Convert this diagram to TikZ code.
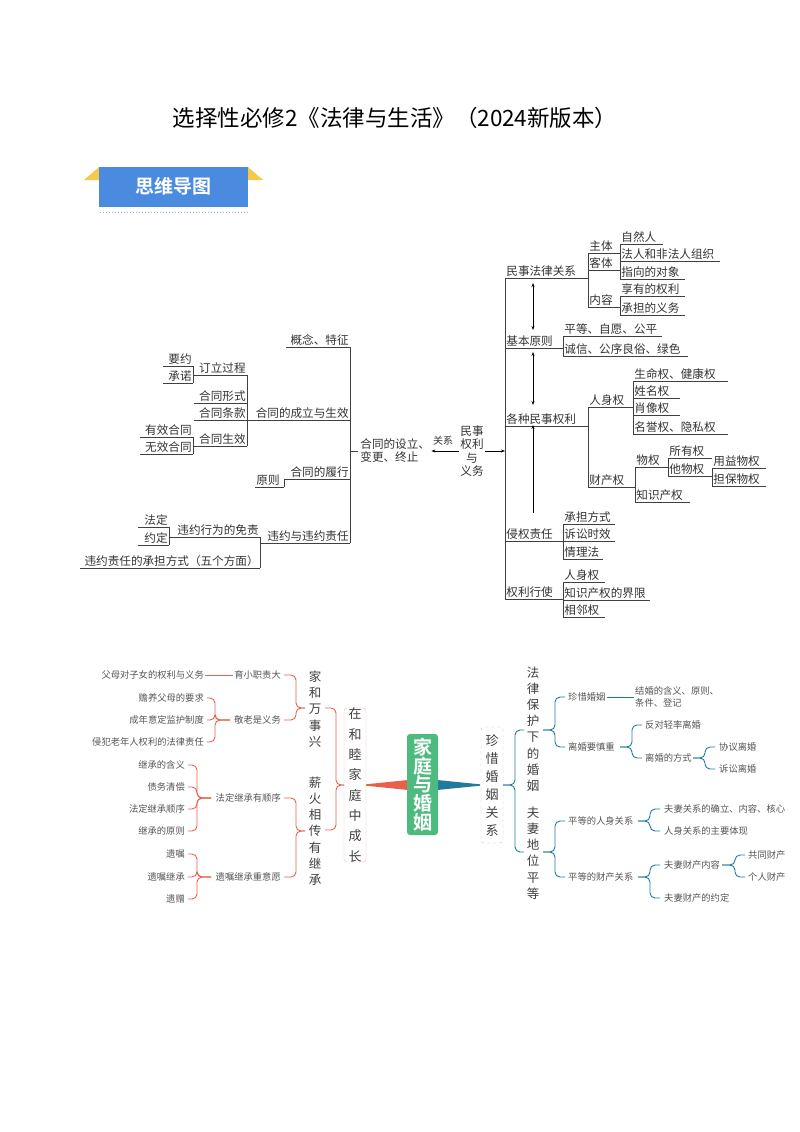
\documentclass[tikz,border=0pt]{standalone}
\usepackage{fontspec}
\setmainfont{Noto Sans CJK SC}
\newfontfamily\cjkb{Noto Sans CJK SC Bold}
\usetikzlibrary{arrows.meta}
\definecolor{rd}{HTML}{E8604C}
\definecolor{tl}{HTML}{1F7A9C}
\definecolor{gr}{HTML}{4DBB7F}
\definecolor{bl}{HTML}{4A8BDF}
\definecolor{yl}{HTML}{F7C948}
\definecolor{gt}{HTML}{555555}
\tikzset{
  tline/.style={draw=black!75,line width=0.7pt},
  tx/.style={inner sep=1.2pt,font=\fontsize{11.6}{13}\selectfont,text=black!80},
  bt/.style={inner sep=1pt,font=\fontsize{9.3}{12}\selectfont,text=gt},
  col/.style={inner sep=0pt,align=center,font=\fontsize{12.5}{16.2}\selectfont,text=black!75},
  dbl/.style={{Stealth[length=4pt]}-{Stealth[length=4pt]},line width=0.7pt},
}
\newcommand\ulL[5]{\draw[tline] (#2,#4) -- (#3,#4); \node[tx,anchor=south west] (#1) at (#2,#4) {#5};}
\newcommand\ulR[5]{\draw[tline] (#2,#4) -- (#3,#4); \node[tx,anchor=south east] (#1) at (#3,#4) {#5};}
\newcommand\vln[3]{\draw[tline] (#1,#2) -- (#1,#3);}
\newcommand\brc[6]{\foreach \yy in {#5}{\draw[#6,line width=0.9pt,rounded corners=5pt] (#1,#2) -- (#3,#2) -- (#3,\yy) -- (#4,\yy);}}
\begin{document}
\begin{tikzpicture}[x=1pt,y=-1pt]
\useasboundingbox (0,0) rectangle (800,1132);
\fill[white] (0,0) rectangle (800,1132);
% title
\node[font=\fontsize{22.5}{26}\selectfont] (title) at (395,118) {选择性必修2《法律与生活》（2024新版本）};
% banner
\fill[yl] (84,180) -- (99,167) -- (99,180) -- cycle;
\fill[yl] (263,180) -- (248,167) -- (248,180) -- cycle;
\fill[bl] (99,167) rectangle (248,207);
\node[font=\cjkb\fontsize{19}{22}\selectfont,text=white] (banner) at (173,186) {思维导图};
\draw[bl!60,dotted,line width=1pt] (100,212) -- (248,212);

% ===== top left tree
\ulR{c1}{286}{350}{347}{概念、特征}
\ulR{c2}{247}{350}{420}{合同的成立与生效}
\ulR{c3}{284}{350}{479}{合同的履行}
\ulL{c3a}{255}{284}{487}{原则}
\vln{284}{479}{487}
\ulR{c4}{260}{350}{543}{违约与违约责任}
\vln{350}{347}{543}
\draw[tline] (350,451) -- (358,451);
\node[tx,align=left,anchor=west] (ht) at (359,451) {合同的设立、\\变更、终止};
\node[tx,align=center,font=\fontsize{11.6}{13.5}\selectfont] (ms) at (472,451) {民事\\权利\\与\\义务};
\draw[-{Stealth[length=4pt]},line width=0.7pt] (ms.west) -- (ht.east);
\node[tx,font=\fontsize{10}{12}\selectfont] (gx) at (443,441) {关系};
\coordinate (rt) at (505,451);
\draw[-{Stealth[length=4pt]},line width=0.7pt] (ms.east) -- (rt);
\ulR{b1}{194}{247}{375}{订立过程}
\ulR{b2}{194}{247}{403}{合同形式}
\ulR{b3}{194}{247}{420}{合同条款}
\ulR{b4}{194}{247}{446}{合同生效}
\vln{247}{375}{446}
\ulR{a1}{163}{193}{366}{要约}
\ulR{a2}{163}{193}{383}{承诺}
\vln{193}{366}{383}
\ulR{a3}{140}{193}{437}{有效合同}
\ulR{a4}{140}{193}{454}{无效合同}
\vln{193}{437}{454}
\ulR{d1}{170}{260}{537}{违约行为的免责}
\ulR{d2}{80}{260}{568}{违约责任的承担方式（五个方面）}
\vln{260}{537}{568}
\ulR{e1}{138}{169}{527}{法定}
\ulR{e2}{138}{169}{545}{约定}
\vln{169}{527}{545}

% ===== top right tree
\vln{505}{278}{600}
\ulL{r1}{505}{588}{278}{民事法律关系}
\vln{588}{253}{307}
\ulL{r11}{588}{620}{253}{主体}
\ulL{r12}{588}{620}{270}{客体}
\ulL{r13}{588}{620}{307}{内容}
\vln{620}{244}{279}
\vln{620}{296}{315}
\ulL{r111}{620}{663}{244}{自然人}
\ulL{r112}{620}{720}{261}{法人和非法人组织}
\ulL{r121}{620}{685}{279}{指向的对象}
\ulL{r131}{620}{685}{296}{享有的权利}
\ulL{r132}{620}{685}{315}{承担的义务}
\ulL{r2}{505}{563}{348}{基本原则}
\vln{563}{336}{356}
\ulL{r21}{563}{662}{336}{平等、自愿、公平}
\ulL{r22}{563}{688}{356}{诚信、公序良俗、绿色}
\ulL{r3}{505}{588}{426}{各种民事权利}
\vln{588}{407}{487}
\ulL{r31}{588}{633}{407}{人身权}
\vln{633}{381}{434}
\ulL{r311}{633}{728}{381}{生命权、健康权}
\ulL{r312}{633}{680}{398}{姓名权}
\ulL{r313}{633}{680}{415}{肖像权}
\ulL{r314}{633}{728}{434}{名誉权、隐私权}
\ulL{r32}{588}{635}{487}{财产权}
\vln{635}{467}{502}
\ulL{r321}{635}{668}{467}{物权}
\ulL{r322}{635}{690}{502}{知识产权}
\vln{668}{458}{476}
\ulL{r3211}{668}{712}{458}{所有权}
\ulL{r3212}{668}{712}{476}{他物权}
\vln{712}{468}{486}
\ulL{r32121}{712}{766}{468}{用益物权}
\ulL{r32122}{712}{766}{486}{担保物权}
\ulL{r4}{505}{563}{541}{侵权责任}
\vln{563}{524}{559}
\ulL{r41}{563}{615}{524}{承担方式}
\ulL{r42}{563}{615}{541}{诉讼时效}
\ulL{r43}{563}{603}{559}{情理法}
\ulL{r5}{505}{563}{599}{权利行使}
\vln{563}{582}{617}
\ulL{r51}{563}{605}{582}{人身权}
\ulL{r52}{563}{650}{600}{知识产权的界限}
\ulL{r53}{563}{605}{617}{相邻权}
\draw[dbl] (533,283) -- (533,330);
\draw[dbl] (533,352) -- (533,405);
\draw[-{Stealth[length=4pt]},line width=0.7pt] (533,513) -- (533,425);

% ===== bottom map
\fill[rd] (366,784.3) -- (408,780) -- (408,790) -- (366,785.7) -- cycle;
\fill[tl] (437,780) -- (437,790) -- (480,785.7) -- (480,784.3) -- cycle;
\node[fill=gr,rounded corners=3pt,minimum width=31pt,minimum height=101pt,inner sep=0pt,align=center,text=white,font=\cjkb\fontsize{19}{17}\selectfont] (core) at (422.5,784.5) {家\\庭\\与\\婚\\姻};
\node[draw=rd!40,rounded corners=3pt,minimum width=22pt,minimum height=150pt,inner sep=0pt,align=center,font=\fontsize{13}{20.3}\selectfont,text=black!75] (L0) at (355,785) {在\\和\\睦\\家\\庭\\中\\成\\长};
\node[draw=black!25,dashed,rounded corners=3pt,minimum width=22pt,minimum height=116pt,inner sep=0pt,align=center,font=\fontsize{13}{18}\selectfont,text=black!75] (R0) at (492,785) {珍\\惜\\婚\\姻\\关\\系};
% left
\brc{344}{785}{336}{325}{708,830}{rd}
\node[col] (L1) at (315,709) {家\\和\\万\\事\\兴};
\node[col] (L2) at (315,831) {薪\\火\\相\\传\\有\\继\\承};
\brc{305}{708}{296}{284}{675,720}{rd}
\node[bt,anchor=east] (L11) at (282,675) {育小职责大};
\node[bt,anchor=east] (L12) at (282,720) {敬老是义务};
\node[bt,anchor=east] (L111) at (205,675) {父母对子女的权利与义务};
\draw[rd,line width=0.9pt] (L111.east) -- (L11.west);
\brc{230}{720}{215}{207}{698,720,742}{rd}
\node[bt,anchor=east] at (205,698) {赡养父母的要求};
\node[bt,anchor=east] at (205,720) {成年意定监护制度};
\node[bt,anchor=east] at (205,742) {侵犯老年人权利的法律责任};
\brc{305}{831}{296}{284}{798,877}{rd}
\node[bt,anchor=east] (L21) at (282,798) {法定继承有顺序};
\node[bt,anchor=east] (L22) at (282,877) {遗嘱继承重意愿};
\brc{211}{798}{197}{188}{765,787,809,831}{rd}
\node[bt,anchor=east] at (186,765) {继承的含义};
\node[bt,anchor=east] at (186,787) {债务清偿};
\node[bt,anchor=east] at (186,809) {法定继承顺序};
\node[bt,anchor=east] at (186,831) {继承的原则};
\brc{211}{877}{197}{188}{854,877,899}{rd}
\node[bt,anchor=east] at (186,854) {遗嘱};
\node[bt,anchor=east] at (186,877) {遗嘱继承};
\node[bt,anchor=east] at (186,899) {遗赠};
% right
\brc{503}{785}{515}{524}{730,852}{tl}
\node[col] (R1) at (533,729) {法\\律\\保\\护\\下\\的\\婚\\姻};
\node[col] (R2) at (533,853) {夫\\妻\\地\\位\\平\\等};
\brc{543}{730}{555}{565}{697,747}{tl}
\node[bt,anchor=west] (R11) at (567,697) {珍惜婚姻};
\node[bt,anchor=west] (R12) at (567,747) {离婚要慎重};
\node[bt,anchor=west,align=left] (R111) at (634,697) {结婚的含义、原则、\\条件、登记};
\draw[tl,line width=0.9pt] (R11.east) -- (R111.west);
\brc{620}{747}{632}{642}{725,758}{tl}
\node[bt,anchor=west] at (644,725) {反对轻率离婚};
\node[bt,anchor=west] (R122) at (644,758) {离婚的方式};
\brc{693}{758}{705}{715}{747,769}{tl}
\node[bt,anchor=west] at (718,747) {协议离婚};
\node[bt,anchor=west] at (718,769) {诉讼离婚};
\brc{543}{852}{555}{565}{821,877}{tl}
\node[bt,anchor=west] at (567,821) {平等的人身关系};
\node[bt,anchor=west] at (567,877) {平等的财产关系};
\brc{638}{821}{650}{660}{809,831}{tl}
\node[bt,anchor=west] at (663,809) {夫妻关系的确立、内容、核心};
\node[bt,anchor=west] at (663,831) {人身关系的主要体现};
\brc{638}{877}{650}{660}{865,898}{tl}
\node[bt,anchor=west] at (663,865) {夫妻财产内容};
\node[bt,anchor=west] at (663,898) {夫妻财产的约定};
\brc{722}{865}{735}{745}{855,877}{tl}
\node[bt,anchor=west] at (747,855) {共同财产};
\node[bt,anchor=west] at (747,877) {个人财产};
\end{tikzpicture}
\end{document}
